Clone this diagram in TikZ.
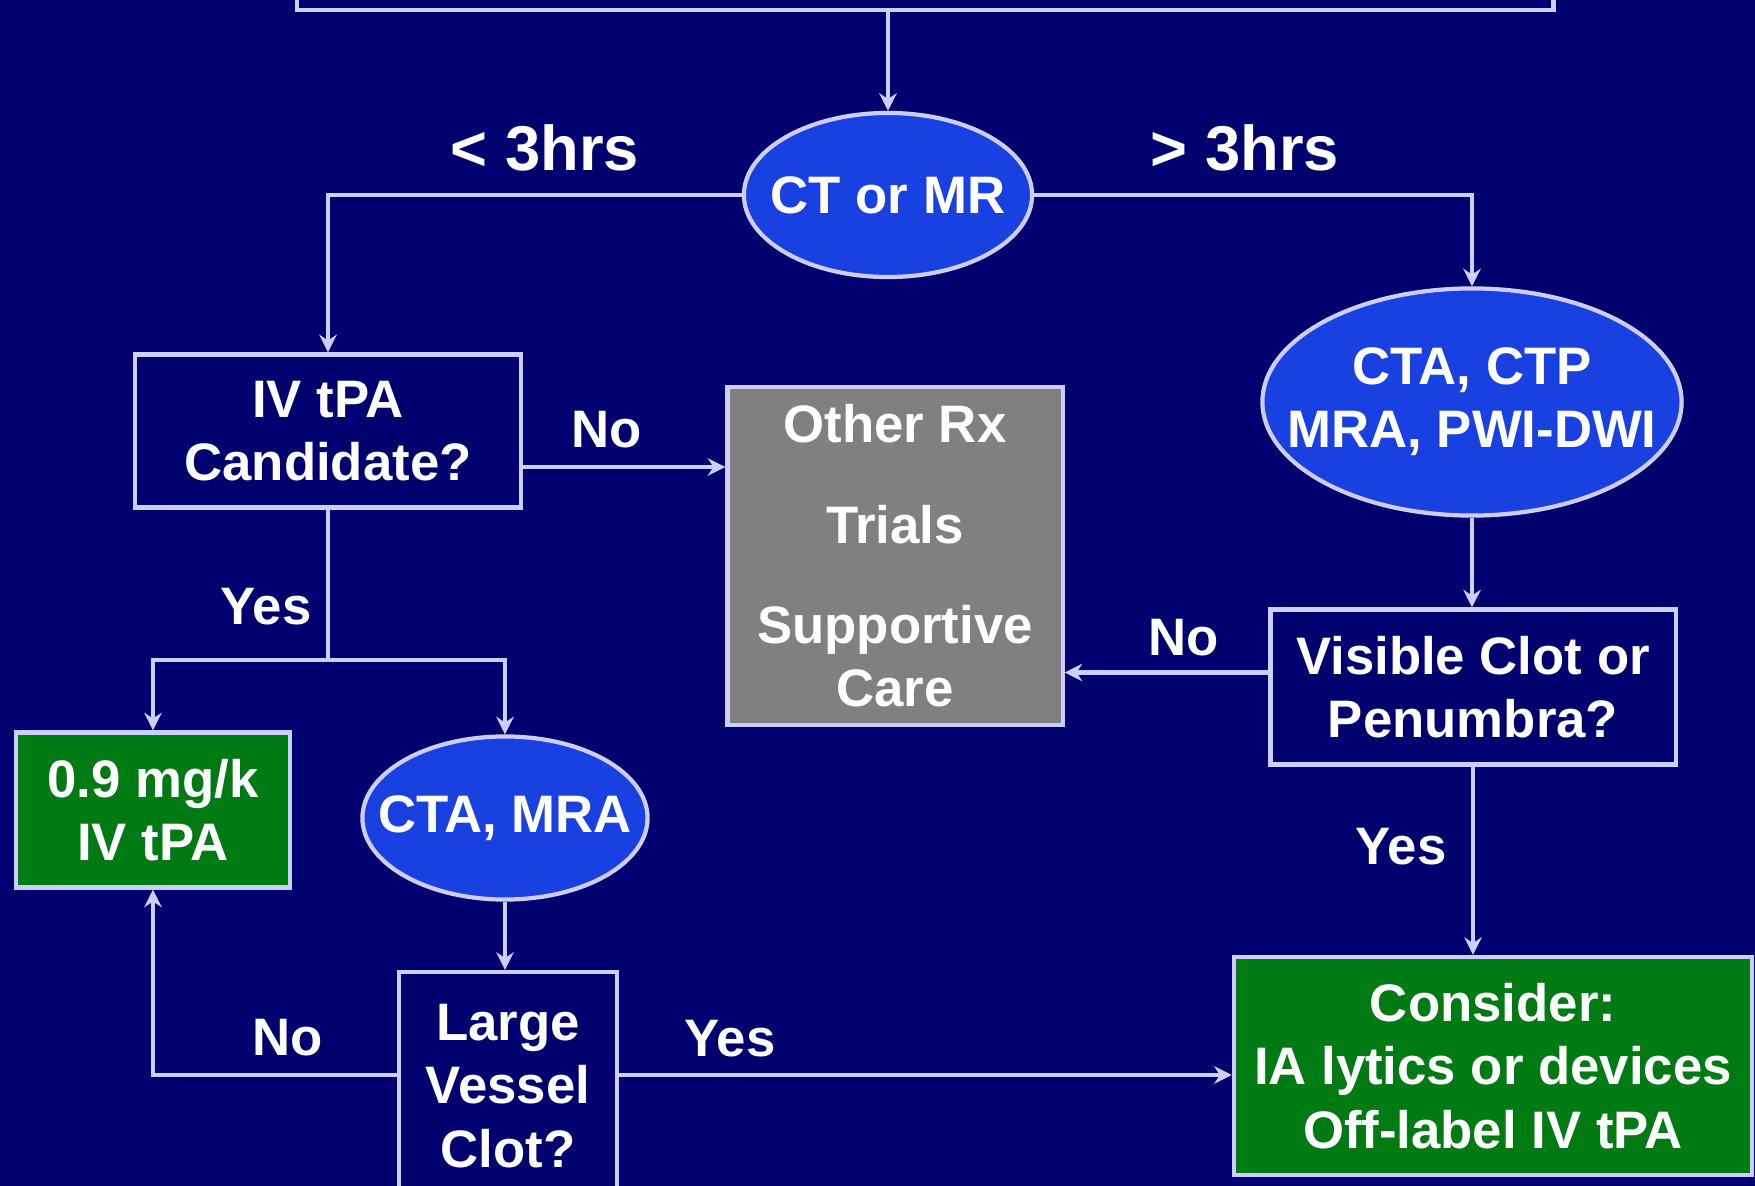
\documentclass[tikz,border=0pt]{standalone}
\usepackage{fontspec}
\setmainfont{Liberation Sans}
\usetikzlibrary{arrows.meta,shapes.geometric}
\definecolor{slidebg}{RGB}{0,0,110}
\definecolor{ovalblue}{RGB}{25,65,225}
\definecolor{okgreen}{RGB}{0,122,18}
\definecolor{boxgray}{RGB}{128,128,128}
\definecolor{linecol}{RGB}{205,205,255}

\begin{document}
\begin{tikzpicture}[x=0.01cm,y=-0.01cm,
    every node/.style={text=white,font=\fontsize{15}{18}\selectfont\bfseries,align=center},
    qbox/.style={rectangle,draw=linecol,line width=1.2pt,inner sep=0pt},
    oval/.style={ellipse,draw=linecol,line width=1.2pt,fill=ovalblue,inner sep=0pt},
    lbl/.style={inner sep=0pt},
    link/.style={draw=linecol,line width=1.2pt},
    arr/.style={link,-{Stealth[length=5pt,width=5pt]}}]
    \useasboundingbox (0,0) rectangle (1755,1186);
    \fill[slidebg] (0,0) rectangle (1755,1186);
    \clip (0,0) rectangle (1755,1186);

    % boxes and ovals
    \node[qbox,minimum width=12.56cm,minimum height=1cm] (top) at (925,-40) {};
    \node[oval,minimum width=2.88cm,minimum height=1.64cm] (ctmr) at (888,195) {};
    \node[lbl] (ctmr-t) at (ctmr) {CT or MR};
    \node[qbox,minimum width=3.86cm,minimum height=1.53cm] (ivcand) at (328,431) {IV tPA\\Candidate?};
    \node[qbox,fill=boxgray,minimum width=3.35cm,minimum height=3.38cm] (other) at (895,556)
        {Other Rx\\[3.7mm]Trials\\[3.7mm]Supportive\\Care};
    \node[oval,minimum width=4.19cm,minimum height=2.27cm] (ctactp) at (1472,402) {};
    \node[lbl] (ctactp-t) at (ctactp) {CTA, CTP\\MRA, PWI-DWI};
    \node[qbox,minimum width=4.05cm,minimum height=1.55cm] (visible) at (1473,687) {Visible Clot or\\Penumbra?};
    \node[qbox,fill=okgreen,minimum width=2.74cm,minimum height=1.55cm] (dose) at (153,810) {0.9 mg/k\\IV tPA};
    \node[oval,minimum width=2.85cm,minimum height=1.63cm] (ctamra) at (505,818) {};
    \node[lbl] (ctamra-t) at (ctamra) {CTA, MRA};
    \node[qbox,minimum width=2.18cm,minimum height=2.28cm] (large) at (508,1086) {Large\\Vessel\\Clot?};
    \node[qbox,fill=okgreen,minimum width=5.18cm,minimum height=2.18cm] (consider) at (1493,1066)
        {Consider:\\IA lytics or devices\\Off-label IV tPA};

    % labels
    \node[lbl,font=\fontsize{18}{21}\selectfont\bfseries] (lt3) at (545,148) {< 3hrs};
    \node[lbl,font=\fontsize{18}{21}\selectfont\bfseries] (gt3) at (1245,148) {> 3hrs};
    \node[lbl] (noa) at (607,430) {No};
    \node[lbl] (yesa) at (266,607) {Yes};
    \node[lbl] (nob) at (1184,638) {No};
    \node[lbl] (yesb) at (1401,847) {Yes};
    \node[lbl] (noc) at (288,1038) {No};
    \node[lbl] (yesc) at (730,1039) {Yes};

    % connectors
    \draw[arr] (ctmr.north |- top.south) -- (ctmr.north);
    \draw[arr] (ctmr.west) -| (ivcand.north);
    \draw[arr] (ctmr.east) -| (ctactp.north);
    \draw[arr] ([yshift=-0.36cm]ivcand.east) -- ([yshift=-0.36cm]ivcand.east -| other.west);
    \draw[link] (ivcand.south) -- ++(0,150) coordinate (split);
    \draw[arr] (split) -| (dose.north);
    \draw[arr] (split) -| (ctamra.north);
    \draw[arr] (ctamra.south) -- (ctamra.south |- large.north);
    \draw[arr] ([yshift=0.11cm]large.west) -| (dose.south);
    \draw[arr] ([yshift=0.11cm]large.east) -- ([yshift=0.11cm]large.east -| consider.west);
    \draw[arr] (ctactp.south) -- (ctactp.south |- visible.north);
    \draw[arr] ([yshift=0.145cm]visible.west) -- ([yshift=0.145cm]visible.west -| other.east);
    \draw[arr] (visible.south) -- (visible.south |- consider.north);
\end{tikzpicture}
\end{document}
